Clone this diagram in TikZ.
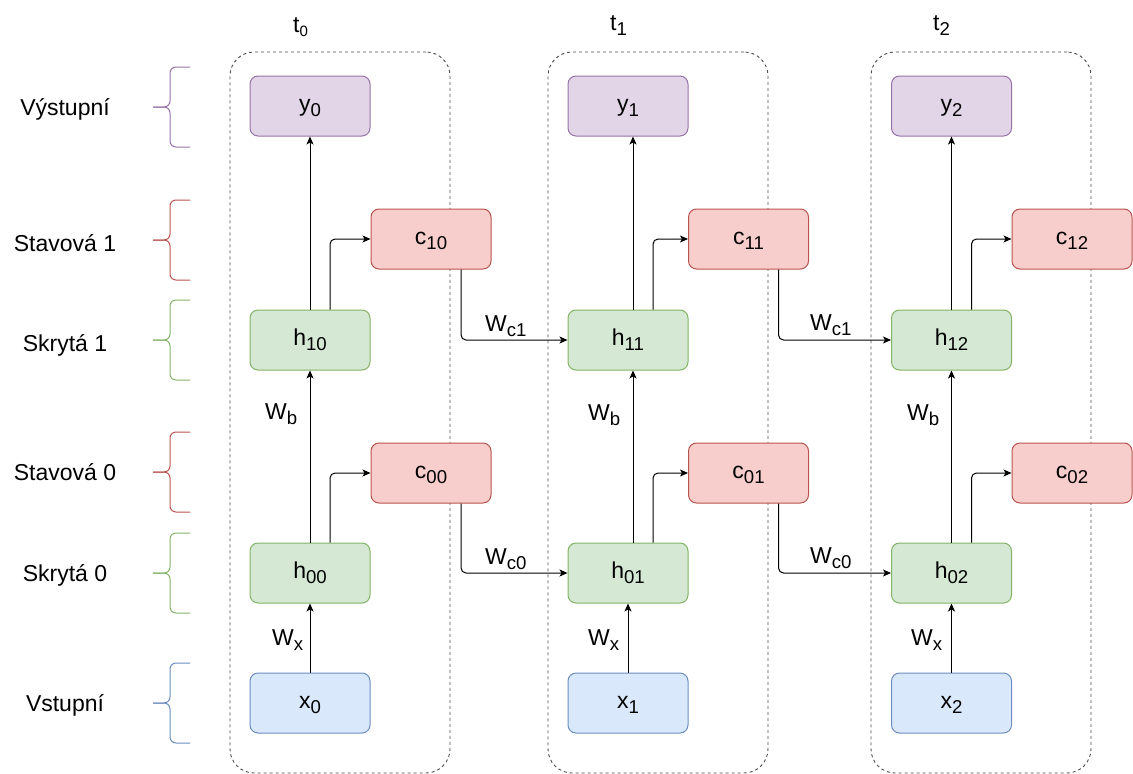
\documentclass[tikz,border=0pt]{standalone}
\usepackage{fontspec}
\setmainfont{Liberation Sans}
\usetikzlibrary{arrows.meta,calc}
\definecolor{pfill}{HTML}{E1D5E7}\definecolor{pline}{HTML}{9673A6}
\definecolor{rfill}{HTML}{F8CECC}\definecolor{rline}{HTML}{B85450}
\definecolor{gfill}{HTML}{D5E8D4}\definecolor{gline}{HTML}{82B366}
\definecolor{bfill}{HTML}{DAE8FC}\definecolor{bline}{HTML}{6C8EBF}
\newcommand\sbx[1]{\raisebox{-5pt}{\fontsize{18.6}{20}\selectfont #1}}
\newcommand\sbt[1]{\raisebox{-4pt}{\fontsize{15}{17}\selectfont #1}}
\begin{document}
\begin{tikzpicture}[x=1pt,y=-1pt,font=\fontsize{23}{27}\selectfont,
  box/.style={draw,line width=1pt,rounded corners=8pt,minimum width=120pt,minimum height=60pt,inner sep=0pt,text height=11pt,text depth=0pt},
  outbox/.style={box,fill=pfill,draw=pline},
  statebox/.style={box,fill=rfill,draw=rline},
  hidbox/.style={box,fill=gfill,draw=gline},
  inbox/.style={box,fill=bfill,draw=bline},
  cont/.style={draw=black!70,line width=0.9pt,dash pattern=on 3pt off 3pt,rounded corners=24pt,minimum width=220pt,minimum height=721pt,inner sep=0pt},
  arr/.style={draw,line width=1pt,-{Stealth[length=8pt,width=7pt,inset=2pt]}},
  brc/.style={line width=1pt,rounded corners=6pt},
  side/.style={anchor=base,inner sep=0pt},
  wl/.style={anchor=base west,inner sep=0pt}]
\useasboundingbox (0,0) rectangle (1133,774);

% time containers
\node[cont] (T0) at (340,412.5) {};
\node[cont] (T1) at (658,412.5) {};
\node[cont] (T2) at (981,412.5) {};
\node[wl] (t0) at (293,32) {t\sbt{0}};
\node[wl] (t1) at (610,30) {t\sbx{1}};
\node[wl] (t2) at (933,30) {t\sbx{2}};

% side labels and braces
\node[side] (LV) at (65,115) {Výstupní};
\node[side] (LS1) at (65,251) {Stavová 1};
\node[side] (LH1) at (65,351) {Skrytá 1};
\node[side] (LS0) at (65,480) {Stavová 0};
\node[side] (LH0) at (65,581.5) {Skrytá 0};
\node[side] (LI) at (65,711.5) {Vstupní};
\foreach \m/\col in {107/pline,240/rline,340/gline,472/rline,573/gline,703/bline}{
  \draw[brc,draw=\col] (190,\m-40) -| (170,\m) -- (153,\m);
  \draw[brc,draw=\col] (190,\m+40) -| (170,\m) -- (153,\m);
}

% columns
\foreach \i/\mx/\cx/\dd/\ee in {0/310/431/0/20,1/628/748.5/5/25,2/951.5/1072/0/20}{
  \node[outbox] (y\i) at (\mx,106) {y\sbx{\i}};
  \node[statebox] (c1\i) at (\cx,239) {c\sbx{1\i}};
  \node[hidbox] (h1\i) at (\mx,340) {h\sbx{1\i}};
  \node[statebox] (c0\i) at (\cx,473) {c\sbx{0\i}};
  \node[hidbox] (h0\i) at (\mx,573) {h\sbx{0\i}};
  \node[inbox] (x\i) at (\mx,703) {x\sbx{\i}};
  \draw[arr] (x\i.north) -- (h0\i.south);
  \draw[arr] ([xshift=\dd pt]h0\i.north) -- ([xshift=\dd pt]h1\i.south);
  \draw[arr] ([xshift=\dd pt]h1\i.north) -- ([xshift=\dd pt]y\i.south);
  \draw[arr,rounded corners=5pt] ([xshift=\ee pt]h0\i.north) |- (c0\i.west);
  \draw[arr,rounded corners=5pt] ([xshift=\ee pt]h1\i.north) |- (c1\i.west);
}

% recurrent connections
\draw[arr,rounded corners=5pt] ([xshift=30pt]c00.south) |- (h01.west);
\draw[arr,rounded corners=5pt] ([xshift=30pt]c10.south) |- (h11.west);
\draw[arr,rounded corners=5pt] ([xshift=30pt]c01.south) |- (h02.west);
\draw[arr,rounded corners=5pt] ([xshift=30pt]c11.south) |- (h12.west);

% weight labels
\node[wl] (wx0) at (272,645) {W\sbx{x}};
\node[wl] (wx1) at (588,645) {W\sbx{x}};
\node[wl] (wx2) at (911,645) {W\sbx{x}};
\node[wl] (wb0) at (265,419) {W\sbx{b}};
\node[wl] (wb1) at (588,420) {W\sbx{b}};
\node[wl] (wb2) at (907,420) {W\sbx{b}};
\node[wl] (wc10) at (485,331) {W\sbx{c1}};
\node[wl] (wc11) at (810,330) {W\sbx{c1}};
\node[wl] (wc00) at (485,564) {W\sbx{c0}};
\node[wl] (wc01) at (810,563) {W\sbx{c0}};
\end{tikzpicture}
\end{document}
